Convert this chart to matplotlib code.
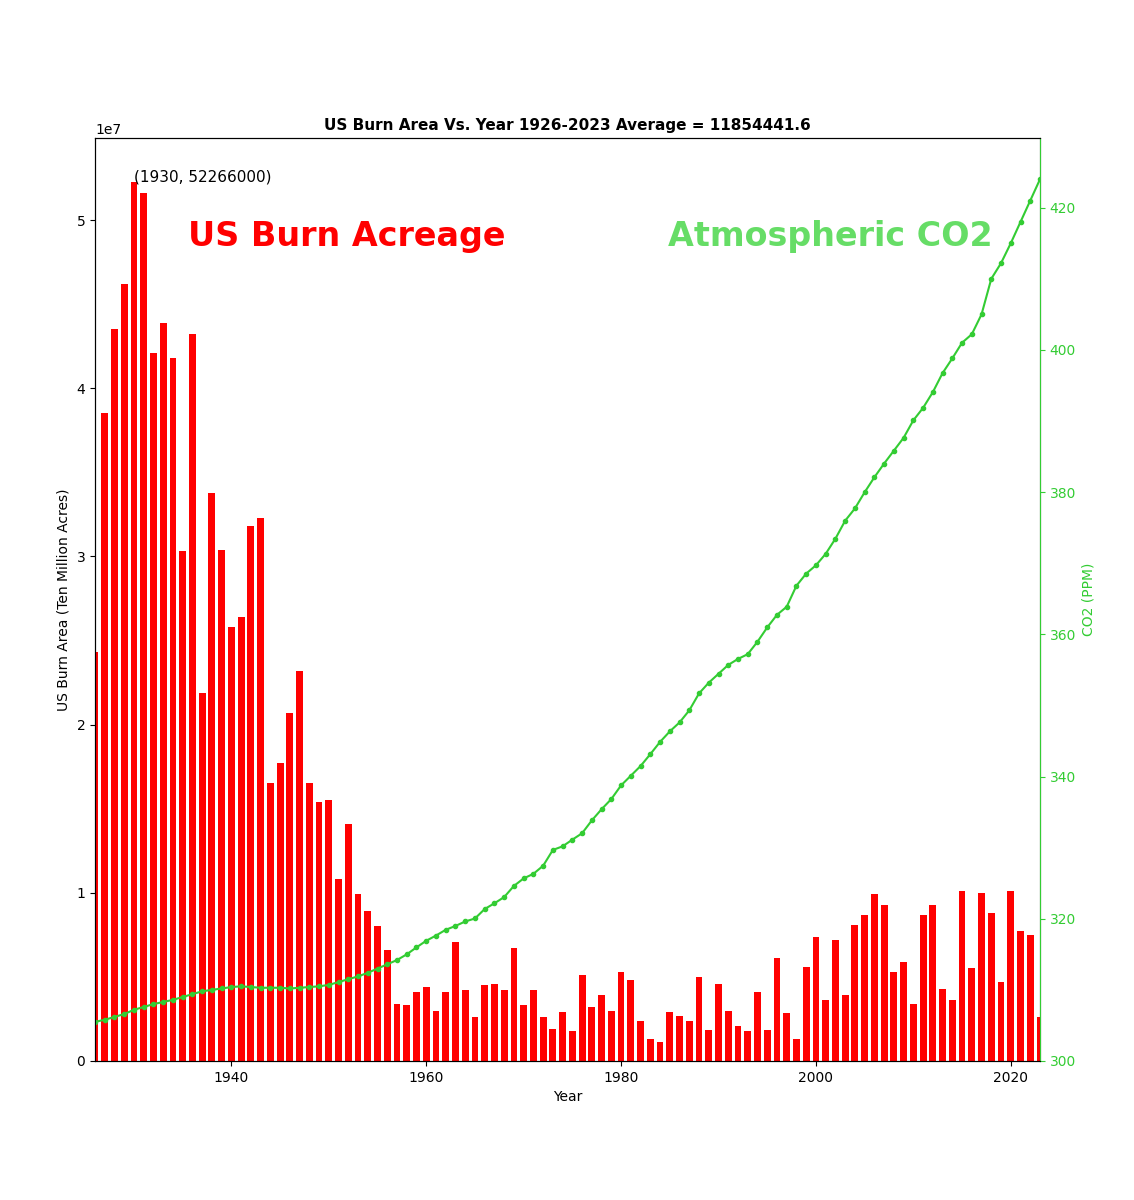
import matplotlib
matplotlib.use("Agg")
import matplotlib.pyplot as plt
import numpy as np

years = list(range(1926, 2024))
burn_millions = [24.3, 38.5, 43.5, 46.2, 52.266, 51.6, 42.1, 43.9, 41.8, 30.3,
                 43.2, 21.9, 33.8, 30.4, 25.8, 26.4, 31.8, 32.3, 16.5, 17.7,
                 20.7, 23.2, 16.5, 15.4, 15.5, 10.8, 14.1, 9.9, 8.9, 8.0,
                 6.6, 3.4, 3.3, 4.1, 4.4, 3.0, 4.1, 7.1, 4.2, 2.6,
                 4.5, 4.6, 4.2, 6.7, 3.3, 4.2, 2.6, 1.9, 2.9, 1.8,
                 5.1, 3.2, 3.9, 3.0, 5.3, 4.8, 2.4, 1.3, 1.15, 2.9,
                 2.7, 2.4, 5.0, 1.85, 4.6, 2.95, 2.1, 1.8, 4.1, 1.85,
                 6.1, 2.85, 1.3, 5.6, 7.4, 3.6, 7.2, 3.95, 8.1, 8.7,
                 9.9, 9.3, 5.3, 5.9, 3.4, 8.7, 9.3, 4.3, 3.6, 10.1,
                 5.5, 10.0, 8.8, 4.7, 10.1, 7.7, 7.5, 2.6]
co2_ppm = [305.5, 305.8, 306.2, 306.6, 307.2, 307.6, 308.0, 308.3, 308.6, 309.0,
           309.4, 309.8, 310.0, 310.2, 310.4, 310.5, 310.4, 310.3, 310.3, 310.3,
           310.2, 310.3, 310.4, 310.5, 310.7, 311.1, 311.5, 311.9, 312.4, 313.0,
           313.6, 314.2, 315.0, 315.98, 316.91, 317.64, 318.45, 318.99, 319.62, 320.04,
           321.37, 322.18, 323.05, 324.62, 325.68, 326.32, 327.46, 329.68, 330.19, 331.13,
           332.03, 333.84, 335.41, 336.84, 338.76, 340.12, 341.48, 343.15, 344.87, 346.35,
           347.61, 349.31, 351.69, 353.2, 354.45, 355.7, 356.54, 357.21, 358.96, 360.97,
           362.74, 363.88, 366.84, 368.54, 369.71, 371.32, 373.45, 375.98, 377.7, 379.98,
           382.09, 384.02, 385.83, 387.64, 390.1, 391.85, 394.06, 396.74, 398.81, 401.01,
           402.2, 405.0, 410.0, 412.2, 415.0, 418.0, 421.0, 424.0]

burn = np.array(burn_millions) * 1e6
avg = burn.mean()

fig = plt.figure(figsize=(11.34, 12), dpi=100)
ax = fig.add_axes([95/1134, 1-1061/1200, 945/1134, 923/1200])
ax.bar(years, burn, width=0.7, color='red')
ax.set_xlim(1926, 2023)
ax.set_ylim(0, max(burn) * 1.05)
ax.set_xlabel('Year')
ax.set_ylabel('US Burn Area (Ten Million Acres)')
ax.set_title('US Burn Area Vs. Year 1926-2023 Average = 11854441.6', fontsize=11, fontweight='bold')
ax.annotate('(1930, 52266000)', xy=(1930, 52266000), fontsize=11)
ax.text(1935.5, 4.9e7, 'US Burn Acreage', color='red', fontsize=24, fontweight='bold', va='center')
ax.text(1984.8, 4.9e7, 'Atmospheric CO2', color='#66dd66', fontsize=24, fontweight='bold', va='center')

ax2 = ax.twinx()
ax2.plot(years, co2_ppm, color='#33cc33', marker='o', markersize=3)
ax2.set_ylim(300, 429.8)
ax2.set_ylabel('CO2 (PPM)', color='#33cc33')
ax2.tick_params(axis='y', colors='#33cc33')
ax2.spines['right'].set_color('#33cc33')

fig.savefig('out.png', dpi=100)
